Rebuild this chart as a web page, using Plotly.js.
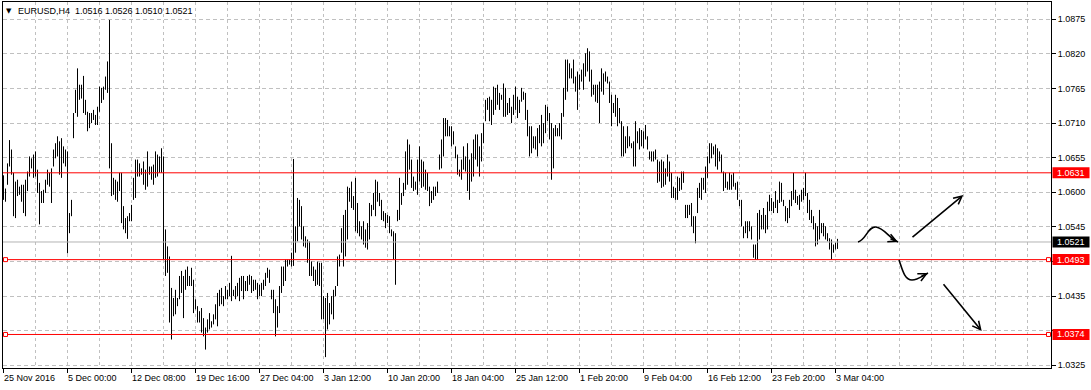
<!DOCTYPE html>
<html>
<head>
<meta charset="utf-8">
<script src="https://cdn.plot.ly/plotly-3.0.1.min.js"></script>
<style>
html,body{margin:0;padding:0;background:#ffffff;}
#chart{width:1091px;height:390px;}
</style>
</head>
<body>
<div id="chart"></div>
<script>
// ---- data ----
const symbolTitle = "EURUSD,H4";
const lastOHLC = [1.0516, 1.0526, 1.0510, 1.0521];

// H4 bar highs, one per bar (bar index 0 = 25 Nov 2016 16:00)
const barHigh = [
1.0627,1.0606,1.0646,1.0683,1.0668,1.0631,1.0617,1.0620,1.0609,1.0612,1.0612,1.0620,1.0633,1.0657,1.0654,1.0660,
1.0665,1.0636,1.0615,1.0602,1.0604,1.0620,1.0636,1.0631,1.0638,1.0668,1.0678,1.0689,1.0681,1.0686,1.0673,1.0668,
1.0665,1.0567,1.0588,1.0726,1.0763,1.0797,1.0771,1.0771,1.0785,1.0747,1.0728,1.0726,1.0726,1.0731,1.0723,1.0736,
1.0768,1.0766,1.0768,1.0784,1.0808,1.0874,1.0678,1.0623,1.0620,1.0617,1.0631,1.0631,1.0578,1.0559,1.0562,1.0567,
1.0580,1.0623,1.0652,1.0652,1.0646,1.0638,1.0649,1.0636,1.0665,1.0641,1.0641,1.0644,1.0665,1.0660,1.0657,1.0670,
1.0657,1.0541,1.0514,1.0498,1.0448,1.0432,1.0445,1.0432,1.0467,1.0475,1.0467,1.0477,1.0482,1.0467,1.0480,1.0461,
1.0430,1.0419,1.0411,1.0416,1.0400,1.0385,1.0398,1.0408,1.0395,1.0406,1.0422,1.0440,1.0445,1.0448,1.0435,1.0451,
1.0445,1.0456,1.0499,1.0445,1.0451,1.0456,1.0464,1.0467,1.0467,1.0459,1.0467,1.0469,1.0467,1.0461,1.0461,1.0456,
1.0453,1.0456,1.0461,1.0472,1.0480,1.0477,1.0445,1.0445,1.0430,1.0419,1.0451,1.0482,1.0482,1.0493,1.0493,1.0493,
1.0504,1.0653,1.0546,1.0591,1.0588,1.0578,1.0546,1.0530,1.0525,1.0522,1.0490,1.0482,1.0477,1.0490,1.0488,1.0488,
1.0435,1.0432,1.0440,1.0424,1.0435,1.0445,1.0451,1.0498,1.0501,1.0543,1.0564,1.0572,1.0609,1.0607,1.0617,1.0594,
1.0623,1.0583,1.0554,1.0546,1.0554,1.0541,1.0551,1.0583,1.0580,1.0599,1.0620,1.0617,1.0599,1.0588,1.0570,1.0567,
1.0564,1.0562,1.0541,1.0538,1.0535,1.0572,1.0623,1.0599,1.0615,1.0665,1.0684,1.0676,1.0652,1.0625,1.0617,1.0652,
1.0673,1.0652,1.0649,1.0636,1.0631,1.0609,1.0602,1.0609,1.0609,1.0617,1.0660,1.0684,1.0718,1.0718,1.0715,1.0705,
1.0705,1.0697,1.0673,1.0660,1.0636,1.0652,1.0673,1.0657,1.0678,1.0652,1.0662,1.0684,1.0692,1.0692,1.0673,1.0694,
1.0710,1.0747,1.0750,1.0752,1.0747,1.0768,1.0766,1.0771,1.0758,1.0755,1.0773,1.0766,1.0742,1.0750,1.0736,1.0755,
1.0768,1.0752,1.0747,1.0766,1.0760,1.0758,1.0731,1.0705,1.0705,1.0689,1.0689,1.0702,1.0707,1.0723,1.0710,1.0739,
1.0736,1.0726,1.0710,1.0702,1.0707,1.0702,1.0710,1.0726,1.0766,1.0811,1.0811,1.0805,1.0797,1.0811,1.0784,1.0792,
1.0787,1.0795,1.0805,1.0821,1.0829,1.0824,1.0795,1.0771,1.0771,1.0771,1.0776,1.0797,1.0789,1.0792,1.0784,1.0776,
1.0755,1.0742,1.0755,1.0750,1.0734,1.0713,1.0705,1.0689,1.0705,1.0689,1.0678,1.0681,1.0713,1.0697,1.0702,1.0699,
1.0697,1.0707,1.0689,1.0665,1.0665,1.0665,1.0668,1.0652,1.0649,1.0652,1.0649,1.0638,1.0660,1.0649,1.0631,1.0609,
1.0607,1.0625,1.0623,1.0633,1.0633,1.0580,1.0580,1.0580,1.0583,1.0562,1.0562,1.0607,1.0615,1.0623,1.0623,1.0641,
1.0657,1.0678,1.0678,1.0673,1.0676,1.0670,1.0665,1.0660,1.0633,1.0631,1.0617,1.0631,1.0628,1.0631,1.0615,1.0617,
1.0588,1.0588,1.0546,1.0554,1.0554,1.0554,1.0546,1.0517,1.0517,1.0567,1.0572,1.0564,1.0575,1.0564,1.0585,1.0596,
1.0591,1.0585,1.0602,1.0588,1.0617,1.0615,1.0588,1.0578,1.0575,1.0588,1.0602,1.0631,1.0604,1.0594,1.0596,1.0604,
1.0607,1.0631,1.0599,1.0588,1.0572,1.0562,1.0551,1.0546,1.0572,1.0551,1.0551,1.0546,1.0535,1.0527,1.0525,1.0517,
1.0520,1.0526
];

// H4 bar lows, one per bar
const barLow = [
1.0588,1.0585,1.0612,1.0641,1.0628,1.0562,1.0559,1.0594,1.0596,1.0585,1.0567,1.0562,1.0602,1.0625,1.0638,1.0623,
1.0625,1.0599,1.0549,1.0583,1.0583,1.0599,1.0612,1.0609,1.0583,1.0641,1.0654,1.0657,1.0628,1.0623,1.0646,1.0641,
1.0503,1.0535,1.0562,1.0686,1.0726,1.0720,1.0747,1.0749,1.0726,1.0723,1.0697,1.0702,1.0710,1.0715,1.0707,1.0707,
1.0728,1.0742,1.0747,1.0763,1.0758,1.0638,1.0594,1.0596,1.0588,1.0585,1.0602,1.0551,1.0541,1.0535,1.0526,1.0554,
1.0554,1.0588,1.0591,1.0625,1.0625,1.0628,1.0612,1.0604,1.0609,1.0628,1.0620,1.0612,1.0623,1.0625,1.0631,1.0631,
1.0493,1.0467,1.0472,1.0393,1.0366,1.0403,1.0406,1.0419,1.0430,1.0440,1.0400,1.0445,1.0451,1.0451,1.0451,1.0408,
1.0414,1.0393,1.0393,1.0377,1.0371,1.0350,1.0377,1.0382,1.0385,1.0390,1.0398,1.0387,1.0419,1.0422,1.0419,1.0430,
1.0430,1.0435,1.0427,1.0435,1.0430,1.0435,1.0427,1.0443,1.0430,1.0443,1.0443,1.0453,1.0440,1.0443,1.0445,1.0430,
1.0435,1.0435,1.0445,1.0451,1.0464,1.0456,1.0430,1.0408,1.0371,1.0385,1.0408,1.0440,1.0451,1.0459,1.0482,1.0485,
1.0482,1.0483,1.0504,1.0522,1.0546,1.0525,1.0514,1.0512,1.0488,1.0467,1.0467,1.0459,1.0451,1.0453,1.0451,1.0398,
1.0398,1.0338,1.0382,1.0390,1.0406,1.0398,1.0435,1.0451,1.0482,1.0504,1.0482,1.0498,1.0525,1.0585,1.0575,1.0572,
1.0538,1.0535,1.0530,1.0525,1.0517,1.0512,1.0509,1.0525,1.0562,1.0572,1.0562,1.0585,1.0578,1.0556,1.0554,1.0543,
1.0551,1.0535,1.0530,1.0493,1.0453,1.0554,1.0556,1.0580,1.0594,1.0604,1.0612,1.0636,1.0607,1.0602,1.0604,1.0596,
1.0617,1.0607,1.0609,1.0604,1.0602,1.0578,1.0583,1.0588,1.0594,1.0599,1.0636,1.0638,1.0657,1.0689,1.0689,1.0689,
1.0673,1.0676,1.0654,1.0628,1.0625,1.0620,1.0636,1.0633,1.0602,1.0588,1.0617,1.0625,1.0652,1.0641,1.0625,1.0649,
1.0678,1.0713,1.0731,1.0713,1.0707,1.0723,1.0731,1.0739,1.0731,1.0747,1.0720,1.0720,1.0723,1.0726,1.0710,1.0723,
1.0731,1.0718,1.0726,1.0744,1.0747,1.0715,1.0689,1.0657,1.0662,1.0670,1.0668,1.0657,1.0678,1.0673,1.0678,1.0694,
1.0713,1.0684,1.0620,1.0638,1.0689,1.0689,1.0689,1.0684,1.0720,1.0747,1.0760,1.0781,1.0781,1.0773,1.0760,1.0731,
1.0763,1.0776,1.0763,1.0784,1.0792,1.0776,1.0752,1.0755,1.0744,1.0742,1.0710,1.0760,1.0755,1.0776,1.0773,1.0742,
1.0705,1.0726,1.0720,1.0705,1.0710,1.0657,1.0657,1.0662,1.0670,1.0673,1.0670,1.0641,1.0641,1.0678,1.0668,1.0673,
1.0670,1.0684,1.0668,1.0652,1.0649,1.0649,1.0652,1.0615,1.0617,1.0607,1.0609,1.0612,1.0625,1.0617,1.0591,1.0591,
1.0588,1.0588,1.0602,1.0604,1.0615,1.0559,1.0559,1.0564,1.0546,1.0535,1.0519,1.0567,1.0591,1.0588,1.0604,1.0599,
1.0623,1.0646,1.0654,1.0660,1.0641,1.0636,1.0649,1.0631,1.0602,1.0607,1.0604,1.0604,1.0604,1.0609,1.0604,1.0588,
1.0578,1.0546,1.0527,1.0535,1.0527,1.0538,1.0525,1.0496,1.0493,1.0493,1.0525,1.0541,1.0541,1.0535,1.0541,1.0570,
1.0570,1.0567,1.0575,1.0567,1.0583,1.0585,1.0578,1.0554,1.0551,1.0559,1.0578,1.0588,1.0583,1.0580,1.0572,1.0585,
1.0588,1.0594,1.0567,1.0556,1.0551,1.0541,1.0514,1.0517,1.0525,1.0535,1.0530,1.0525,1.0522,1.0509,1.0493,1.0504,
1.0509,1.0510
];

// time-axis labels, one every 32 bars
const timeLabels = ["25 Nov 2016","5 Dec 00:00","12 Dec 08:00","19 Dec 16:00","27 Dec 04:00",
  "3 Jan 12:00","10 Jan 20:00","18 Jan 04:00","25 Jan 12:00","1 Feb 20:00","9 Feb 04:00",
  "16 Feb 12:00","23 Feb 20:00","3 Mar 04:00"];
const barsPerLabel = 32;
const barsPerGrid = 16;

// price axis
const priceTicks = [1.0325,1.0380,1.0435,1.0490,1.0545,1.0600,1.0655,1.0710,1.0765,1.0820,1.0875];
const priceRange = [1.03207, 1.09025];

// horizontal levels drawn on the chart
const redLevels = [1.0631, 1.0493, 1.0374];
const selectedLevels = [1.0493, 1.0374];
const bidPrice = 1.0521;

// hand-drawn scenario arrows (bar index, price)
const straightArrows = [
  {from:[453.75, 1.05269], to:[479.9, 1.05957]},
  {from:[469.4, 1.04563], to:[489.1, 1.03795]}
];
const curvedArrows = [
  {path:"M427.25,1.05210 C431.25,1.05242 432.25,1.05464 436.25,1.05448 C440.25,1.05432 442.75,1.05276 447.25,1.05210",
   tip:[447.25,1.05210], back:[-9,-4]},
  {path:"M447.75,1.04924 C449.25,1.04797 450.25,1.04606 454.25,1.04606 C457.25,1.04606 459.25,1.04670 462.25,1.04717",
   tip:[462.25,1.04717], back:[-8,4]}
];

// ---- build ----
const W = 1091, H = 390;
const M = {l:3, r:40, t:2, b:22};
const PW = W - M.l - M.r, PH = H - M.t - M.b;
const px2paperX = p => (p - M.l) / PW;
const px2paperY = p => (H - M.b - p) / PH;

const xs = [], ys = [];
for (let i = 0; i < barHigh.length; i++) {
  xs.push(i, i, null);
  ys.push(barLow[i], barHigh[i], null);
}

const trace = {
  type:'scatter', mode:'lines', x:xs, y:ys,
  line:{color:'#000000', width:1}, hoverinfo:'skip', connectgaps:false
};

const labelIdx = timeLabels.map((_, k) => k * barsPerLabel);
const FONT = 'Liberation Sans, Arial, sans-serif';

// price-tag boxes cover the axis labels that sit under them
const tags = redLevels.map(v => ({v, bg:'#ff0000'})).concat([{v:bidPrice, bg:'#000000'}]);
const halfTagPrice = 6 / 6291;
const priceTickText = priceTicks.map(v =>
  tags.some(t => Math.abs(t.v - v) < halfTagPrice) ? '' : v.toFixed(4));

const shapes = [];
shapes.push({type:'line', xref:'paper', x0:0, x1:1, yref:'y', y0:bidPrice, y1:bidPrice,
  line:{color:'#b4b4b4', width:1}});
redLevels.forEach(v => shapes.push({type:'line', xref:'paper', x0:0, x1:1, yref:'y', y0:v, y1:v,
  line:{color:'#ff0000', width:1}}));
selectedLevels.forEach(v => {
  [px2paperX(5.5), px2paperX(1048.5)].forEach(xa => shapes.push({
    type:'rect', xref:'paper', yref:'y', xsizemode:'pixel', ysizemode:'pixel',
    xanchor:xa, yanchor:v, x0:-2, x1:2, y0:-2, y1:2,
    fillcolor:'#ffffff', line:{color:'#ff0000', width:1}
  }));
});
tags.forEach(t => shapes.push({
  type:'rect', xref:'paper', yref:'y', ysizemode:'pixel', yanchor:t.v, y0:-5.5, y1:5.5,
  x0:px2paperX(1052.5), x1:px2paperX(1089.5), fillcolor:t.bg, line:{width:0}
}));
curvedArrows.forEach(c => shapes.push({type:'path', xref:'x', yref:'y', path:c.path,
  line:{color:'#000000', width:1.6}}));

const annotations = [];
timeLabels.forEach((t, k) => annotations.push({
  text:t, xref:'x', x:labelIdx[k], xanchor:'left', xshift:-2,
  yref:'paper', y:0, yanchor:'top', yshift:-3, showarrow:false,
  font:{family:FONT, size:9, color:'#000'}
}));
tags.forEach(t => annotations.push({
  text:t.v.toFixed(4), xref:'paper', x:px2paperX(1055), xanchor:'left', yref:'y', y:t.v, yanchor:'middle',
  showarrow:false, font:{family:FONT, size:9, color:'#ffffff'}
}));
annotations.push({text:'\u25BC', xref:'paper', x:px2paperX(9), xanchor:'center', yref:'paper', y:px2paperY(11),
  yanchor:'middle', showarrow:false, font:{family:'DejaVu Sans', size:7, color:'#000'}});
annotations.push({text:symbolTitle + '\u00a0\u00a0' + lastOHLC.map(v => v.toFixed(4)).join(' '),
  xref:'paper', x:px2paperX(16), xanchor:'left', yref:'paper', y:px2paperY(11), yanchor:'middle',
  showarrow:false, font:{family:FONT, size:9, color:'#000'}});
straightArrows.forEach(a => annotations.push({
  text:'', xref:'x', yref:'y', x:a.to[0], y:a.to[1], axref:'x', ayref:'y', ax:a.from[0], ay:a.from[1],
  showarrow:true, arrowhead:5, arrowsize:1, arrowwidth:1.6, arrowcolor:'#000', standoff:0
}));
curvedArrows.forEach(c => annotations.push({
  text:'', xref:'x', yref:'y', x:c.tip[0], y:c.tip[1], ax:c.back[0], ay:c.back[1],
  showarrow:true, arrowhead:5, arrowsize:1, arrowwidth:1.6, arrowcolor:'#000', standoff:0
}));

const layout = {
  width:W, height:H,
  margin:{l:M.l, r:M.r, t:M.t, b:M.b, pad:0},
  paper_bgcolor:'#ffffff', plot_bgcolor:'#ffffff',
  showlegend:false,
  font:{family:FONT, size:9, color:'#000'},
  xaxis:{
    range:[-0.25, -0.25 + PW/2],
    tickmode:'array', tickvals:labelIdx, ticktext:labelIdx.map(() => ''), showticklabels:false,
    ticks:'outside', ticklen:4, tickcolor:'#000', tickwidth:1,
    showgrid:true, gridcolor:'#c0c0c0', griddash:'3px,3px', gridwidth:1,
    minor:{tickmode:'linear', tick0:0, dtick:barsPerGrid, showgrid:true, gridcolor:'#c0c0c0',
           griddash:'3px,3px', gridwidth:1, ticks:''},
    showline:true, linecolor:'#000', linewidth:1, mirror:true, zeroline:false, fixedrange:true
  },
  yaxis:{
    side:'right', range:priceRange,
    tickmode:'array', tickvals:priceTicks, ticktext:priceTickText,
    ticks:'outside', ticklen:4, tickcolor:'#000', tickwidth:1,
    tickfont:{family:FONT, size:9, color:'#000'},
    showgrid:true, gridcolor:'#c0c0c0', griddash:'4px,3px', gridwidth:1,
    showline:true, linecolor:'#000', linewidth:1, mirror:true, zeroline:false, fixedrange:true
  },
  shapes, annotations
};

Plotly.newPlot('chart', [trace], layout, {staticPlot:true, displayModeBar:false});
</script>
</body>
</html>
